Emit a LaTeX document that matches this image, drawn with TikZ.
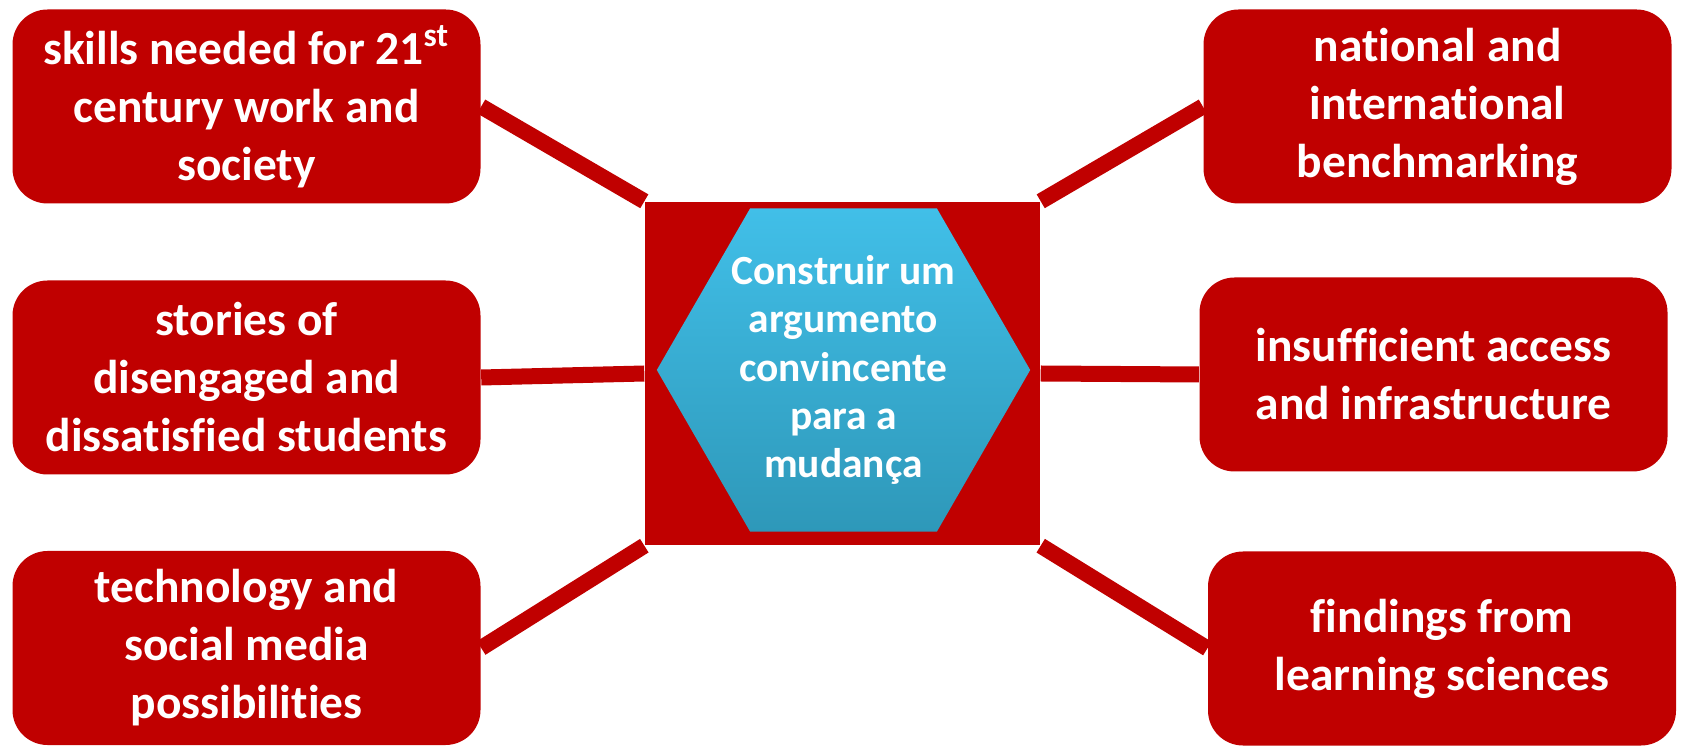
\documentclass[tikz,border=0pt]{standalone}
\usepackage{fontspec}
\setmainfont[Ligatures=NoCommon]{Carlito}
\usetikzlibrary{shapes.geometric}
\definecolor{boxred}{HTML}{C00000}
\definecolor{hextop}{HTML}{41BFE8}
\definecolor{hexbottom}{HTML}{2E98B9}

\begin{document}
\begin{tikzpicture}[
	idea/.style={rectangle, rounded corners=0.35cm, fill=boxred, text=white,
		minimum width=4.68cm, minimum height=1.94cm, align=center,
		font=\fontsize{13.5}{16.5}\selectfont\bfseries},
	link/.style={draw=boxred, line width=0.16cm},
	hexa/.style={regular polygon, regular polygon sides=6, minimum size=3.71cm,
		inner sep=0pt, top color=hextop, bottom color=hexbottom, text=white, align=center,
		font=\fontsize{11.8}{13.7}\selectfont\bfseries}]
	\useasboundingbox (0,0) rectangle (16.81,7.45);
	% centre
	\node[rectangle, fill=boxred, minimum width=3.95cm, minimum height=3.43cm, inner sep=0pt] (core) at (8.425,3.715) {};
	\node[hexa] (goal) at (8.435,3.75) {Construir um\\argumento\\convincente\\para a\\mudança};
	% left column
	\node[idea] (skills) at (2.465,6.385) {skills needed for 21\textsuperscript{st}\\century work and\\society};
	\node[idea] (stories) at (2.465,3.675) {stories of\\disengaged and\\dissatisfied students};
	\node[idea] (tech) at (2.465,0.97) {technology and\\social media\\possibilities};
	% right column
	\node[idea] (bench) at (14.375,6.385) {national and\\international\\benchmarking};
	\node[idea] (access) at (14.335,3.705) {insufficient access\\and infrastructure};
	\node[idea] (findings) at (14.42,0.965) {findings from\\learning sciences};
	% links
	\draw[link] (skills.east) -- (core.north west);
	\draw[link] (stories.east) -- (core.west);
	\draw[link] (tech.east) -- (core.south west);
	\draw[link] (bench.west) -- (core.north east);
	\draw[link] (access.west) -- (core.east);
	\draw[link] (findings.west) -- (core.south east);
\end{tikzpicture}
\end{document}
